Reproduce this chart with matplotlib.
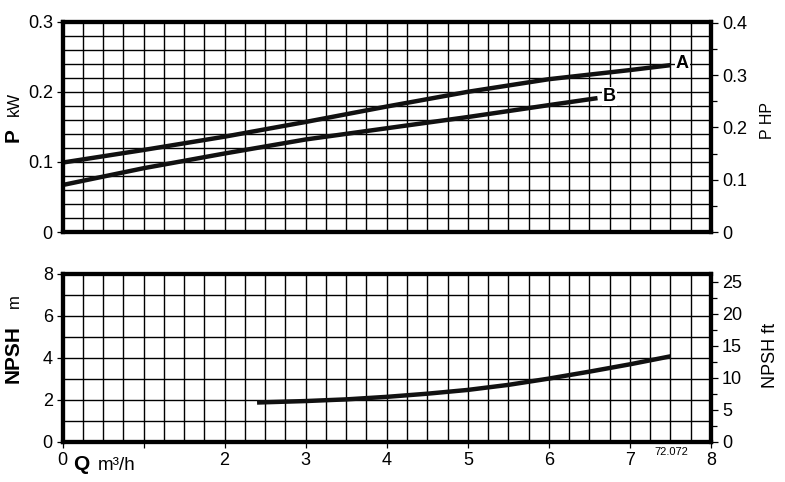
import numpy as np
import matplotlib
matplotlib.use('Agg')
import matplotlib.pyplot as plt


# flow Q in m3/h, power in kW for curves A and B
q_a = [0, 1, 2, 3, 4, 5, 6, 7, 7.5]
p_a = [0.099, 0.117, 0.136, 0.157, 0.179, 0.200, 0.218, 0.231, 0.238]
q_b = [0, 1, 2, 3, 4, 5, 6, 6.6]
p_b = [0.067, 0.091, 0.112, 0.132, 0.148, 0.164, 0.181, 0.191]

# npsh in m
q_n = [2.4, 3, 3.5, 4, 4.5, 5, 5.5, 6, 6.5, 7, 7.5]
npsh = [1.88, 1.95, 2.03, 2.15, 2.30, 2.48, 2.72, 3.02, 3.35, 3.70, 4.08]

x_ticks = [0, 1, 2, 3, 4, 5, 6, 7, 8]
x_labels = ['0', '', '2', '3', '4', '5', '6', '7', '8']
p_ticks = [0, 0.1, 0.2, 0.3]
hp_ticks = [0, 0.1, 0.2, 0.3, 0.4]
n_ticks = [0, 2, 4, 6, 8]
ft_ticks = [0, 5, 10, 15, 20, 25]

KW_TO_HP = 1.341
M_TO_FT = 3.2808

plt.rcParams['font.family'] = ['Liberation Sans', 'DejaVu Sans']
W, H = 785, 482
fig = plt.figure(figsize=(W / 100, H / 100), dpi=100)

FS = 13
LW = 3.2


def px(x, y):
    return x / W, 1 - y / H


def style(ax, yminor):
    ax.set_xlim(0, 8)
    ax.set_xticks(x_ticks)
    ax.set_xticks(np.arange(0, 8.01, 0.25), minor=True)
    ax.set_yticks(yminor, minor=True)
    ax.grid(True, which='both', color='black', lw=1.0)
    ax.set_axisbelow(True)
    for s in ax.spines.values():
        s.set_linewidth(3)
    ax.tick_params(which='minor', length=0)
    ax.tick_params(which='major', length=4, width=0.9, labelsize=FS, pad=3)


# power chart
ax1 = fig.add_axes([62.5 / W, 1 - 232 / H, 648.5 / W, 210.3 / H])
style(ax1, np.arange(0, 0.301, 0.02))
ax1.set_ylim(0, 0.3)
ax1.set_yticks(p_ticks, ['0', '0.1', '0.2', '0.3'])
ax1.tick_params(axis='x', length=0, labelbottom=False)
ax1.plot(q_a, p_a, color='#111111', lw=LW, solid_capstyle='butt')
ax1.plot(q_b, p_b, color='#111111', lw=LW, solid_capstyle='butt')
ax1.annotate('A', (q_a[-1], p_a[-1]), xytext=(4, 1), textcoords='offset points',
             ha='left', va='center', fontsize=13, fontweight='bold',
             bbox=dict(fc='white', ec='none', pad=0.5))
ax1.annotate('B', (q_b[-1], p_b[-1]), xytext=(4, 1), textcoords='offset points',
             ha='left', va='center', fontsize=13, fontweight='bold',
             bbox=dict(fc='white', ec='none', pad=0.5))

ax1r = ax1.twinx()
ax1r.set_ylim(0, 0.3 * KW_TO_HP)
ax1r.set_yticks(hp_ticks, ['0', '0.1', '0.2', '0.3', '0.4'])
ax1r.set_yticks(np.arange(0.05, 0.4, 0.1), minor=True)
ax1r.tick_params(which='major', length=5, width=0.9, labelsize=FS, pad=3)
ax1r.tick_params(which='minor', length=4, width=0.9)
for s in ax1r.spines.values():
    s.set_linewidth(3)

# npsh chart
ax2 = fig.add_axes([62.5 / W, 1 - 442 / H, 648.5 / W, 168 / H])
style(ax2, np.arange(0, 8.01, 1))
ax2.set_ylim(0, 8)
ax2.set_yticks(n_ticks)
ax2.set_xticks(x_ticks, x_labels)
ax2.plot(q_n, npsh, color='#111111', lw=LW, solid_capstyle='butt')

ax2r = ax2.twinx()
ax2r.set_ylim(0, 8 * M_TO_FT)
ax2r.set_yticks(ft_ticks)
ax2r.set_yticks(np.arange(2.5, 26, 5), minor=True)
ax2r.tick_params(which='major', length=5, width=0.9, labelsize=FS, pad=3)
ax2r.tick_params(which='minor', length=4, width=0.9)
for s in ax2r.spines.values():
    s.set_linewidth(3)

# axis labels
rot = dict(rotation=90, rotation_mode='anchor', ha='left', va='baseline')
fig.text(*px(18.5, 141.5), 'P', fontsize=15, fontweight='bold', **rot)
fig.text(*px(18.5, 116), 'kW', fontsize=12, **rot)
fig.text(*px(19, 383), 'NPSH', fontsize=15, fontweight='bold', **rot)
fig.text(*px(19, 308), 'm', fontsize=12, **rot)
fig.text(*px(772, 139), 'P HP', fontsize=11.5, **rot)
fig.text(*px(775, 388), 'NPSH ft', fontsize=13, **rot)
fig.text(*px(73, 470), 'Q', fontsize=15, fontweight='bold', va='baseline')
fig.text(*px(97.5, 470), 'm\u00b3/h', fontsize=13.5, va='baseline')
fig.text(*px(671, 452), '72.072', fontsize=8, ha='center', va='center')

fig.savefig('out.png', dpi=100)
